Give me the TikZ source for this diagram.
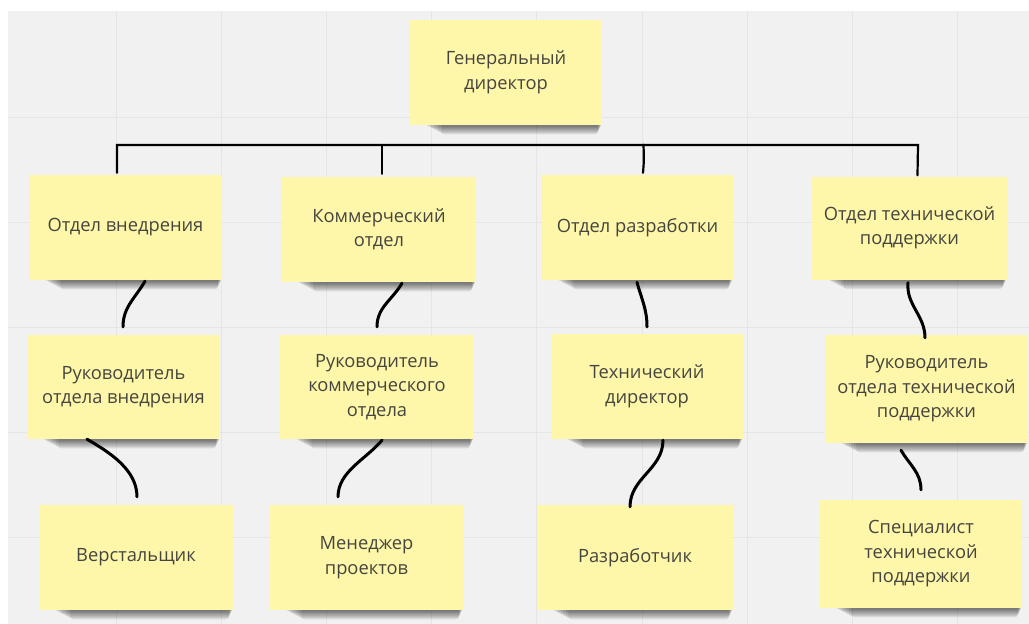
\documentclass[tikz,border=0pt]{standalone}
\usepackage{fontspec}
\setmainfont{Open Sans}
\usetikzlibrary{calc}
\definecolor{stickyyellow}{HTML}{FEF6A9}
\definecolor{txt}{HTML}{454540}
\definecolor{boardgray}{HTML}{F1F1F1}
\definecolor{gridgray}{HTML}{E5E5E5}
\pgfdeclarelayer{bg}
\pgfdeclarelayer{shadow}
\pgfsetlayers{bg,shadow,main}
\begin{document}
\begin{tikzpicture}[x=1pt,y=-1pt,
  sticky/.style={fill=stickyyellow, text=txt, align=center,
    font=\fontsize{18.3}{24.5}\selectfont, inner sep=0pt},
  sz/.style 2 args={minimum width=#1pt, minimum height=#2pt},
  link/.style={draw=black, line width=3pt, line cap=round},
  bracket/.style={draw=black, line width=2.2pt, line cap=round, line join=miter},
  gridline/.style={draw=gridgray, line width=0.9pt}]

\useasboundingbox (0,0) rectangle (1029,624);

% board
\begin{pgfonlayer}{bg}
  \fill[white] (0,0) rectangle (1029,624);
  \fill[boardgray] (8,11) rectangle (1029,624);
  \foreach \gx in {116,221.2,326.4,431.6,536.8,642,747.2,852.4,957.6}
    \draw[gridline] (\gx,11) -- (\gx,624);
  \foreach \gy in {117,222,327,432,537}
    \draw[gridline] (8,\gy) -- (1029,\gy);
\end{pgfonlayer}

% sticky notes
\node[sticky, sz={192}{105}] (gd) at (506,72.5) {Генеральный\\директор};

\node[sticky, sz={193}{105}] (d1) at (125.5,227.5) {Отдел внедрения};
\node[sticky, sz={194}{105}] (d2) at (379,229.5) {Коммерческий\\отдел};
\node[sticky, sz={191}{105}] (d3) at (637.5,227.5) {Отдел разработки};
\node[sticky, sz={195}{103}] (d4) at (909.5,228) {Отдел технической\\поддержки};

\node[sticky, sz={193}{104}] (r1) at (123.5,387) {Руководитель\\отдела внедрения};
\node[sticky, sz={194}{104}] (r2) at (377,387) {Руководитель\\коммерческого\\отдела};
\node[sticky, sz={192}{105}] (r3) at (647,386.5) {Технический\\директор};
\node[sticky, sz={203}{108}] (r4) at (926.5,389) {Руководитель\\отдела технической\\поддержки};

\node[sticky, sz={194}{105}] (e1) at (136,557.5) {Верстальщик};
\node[sticky, sz={193}{105}] (e2) at (366.5,557.5) {Менеджер\\проектов};
\node[sticky, sz={196}{105}] (e3) at (635,557.5) {Разработчик};
\node[sticky, sz={202}{108}] (e4) at (921,554) {Специалист\\технической\\поддержки};

% shadows under the notes
\begin{pgfonlayer}{shadow}
  \foreach \n in {gd,d1,d2,d3,d4,r1,r2,r3,r4,e1,e2,e3,e4}{
    \foreach \k in {1,...,7}{
      \fill[black, opacity=0.09, rounded corners=3pt]
        ([xshift={(14+2.5*\k)*1pt}, yshift=6pt]\n.south west)
        rectangle ([xshift={(-0.6*\k)*1pt}, yshift={(-1.3*\k)*1pt}]\n.south east);
    }
  }
\end{pgfonlayer}

% bracket from the director to the departments
\coordinate (bl) at (117,145);
\coordinate (bm) at (382,145);
\coordinate (br) at (918,145);
\draw[bracket] ([xshift=-8.5pt, yshift=2pt]d1.north) -- (bl) -- (br) -- ([xshift=8pt, yshift=1pt]d4.north);
\draw[bracket] ([yshift=3pt]d2.north -| bm) -- (bm);
\draw[bracket] ([xshift=5.5pt, yshift=2pt]d3.north) .. controls ([xshift=6.5pt, yshift=14pt]d3.north) .. ([xshift=6pt, yshift=30pt]d3.north);

% curved links between the rows
\draw[link] ([xshift=19.5pt, yshift=-1pt]d1.south) to[out=-120, in=90] ([xshift=-0.5pt, yshift=8pt]r1.north);
\draw[link] ([xshift=-36.5pt, yshift=0pt]r1.south) to[out=-30, in=90, looseness=0.9] ([xshift=1pt, yshift=8pt]e1.north);

\draw[link] ([xshift=23pt, yshift=-1pt]d2.south) to[out=-120, in=90] ([xshift=0pt, yshift=8pt]r2.north);
\draw[link] ([xshift=5pt, yshift=-1pt]r2.south) to[out=-130, in=90, looseness=0.9] ([xshift=-28.5pt, yshift=8pt]e2.north);

\draw[link] ([xshift=-0.5pt, yshift=-2pt]d3.south) to[out=-75, in=90] ([xshift=0pt, yshift=7pt]r3.north);
\draw[link] ([xshift=16pt, yshift=-1pt]r3.south) to[out=-90, in=90] ([xshift=-5pt, yshift=-2pt]e3.north);

\draw[link] ([xshift=-1.5pt, yshift=-3pt]d4.south) to[out=-95, in=90] ([xshift=-1.5pt, yshift=-3pt]r4.north);
\draw[link] ([xshift=-25.5pt, yshift=-7pt]r4.south) to[out=-60, in=90] ([xshift=0pt, yshift=10pt]e4.north);

\end{tikzpicture}
\end{document}
